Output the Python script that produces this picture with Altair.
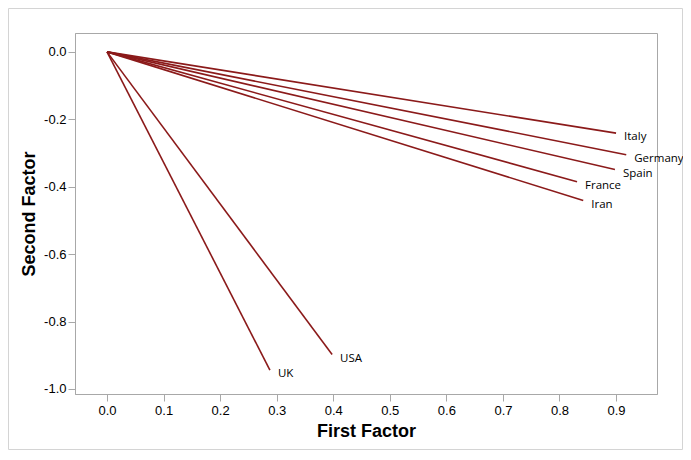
import altair as alt
import pandas as pd

countries = ["Italy", "Germany", "Spain", "France", "Iran", "USA", "UK"]
first_factor = [0.900, 0.918, 0.898, 0.831, 0.842, 0.398, 0.288]
second_factor = [-0.241, -0.305, -0.349, -0.385, -0.441, -0.898, -0.944]
x_ticks = [0.0, 0.1, 0.2, 0.3, 0.4, 0.5, 0.6, 0.7, 0.8, 0.9]
y_ticks = [0.0, -0.2, -0.4, -0.6, -0.8, -1.0]

df = pd.DataFrame({"country": countries, "x": first_factor, "y": second_factor})

W, H = 582, 361
LINE = "#8b1a1a"
GRAY = "#a8a8a8"

xscale = alt.Scale(domain=[-0.0566, 0.9724], nice=False, zero=False)
yscale = alt.Scale(domain=[-1.015, 0.056], nice=False, zero=False)

label_expr = "datum.value < 0 ? '-' + format(-datum.value, '.1f') : format(datum.value, '.1f')"

base = alt.Chart(df)

lines = base.mark_rule(color=LINE, strokeWidth=1.6).encode(
    x=alt.X("x:Q", scale=xscale, title="First Factor",
            axis=alt.Axis(values=x_ticks, labelExpr=label_expr)),
    y=alt.Y("y:Q", scale=yscale, title="Second Factor",
            axis=alt.Axis(values=y_ticks, labelExpr=label_expr)),
    x2=alt.datum(0),
    y2=alt.datum(0),
)

labels = base.mark_text(align="left", baseline="middle", dx=8, dy=4,
                        font="Open Sans", fontSize=11.5, color="black").encode(
    x="x:Q", y="y:Q", text="country:N"
)

border = alt.Chart(pd.DataFrame({"a": [0]})).mark_rect(
    fill=None, stroke="#d4d4d4", strokeWidth=1
).encode(
    x=alt.value(-66.5), x2=alt.value(W + 25.5),
    y=alt.value(-24.5), y2=alt.value(H + 55.5),
)

chart = alt.layer(border, lines, labels).properties(
    width=W, height=H,
    autosize=alt.AutoSizeParams(type="none"),
    padding={"left": 67, "top": 25, "right": 26, "bottom": 56},
    background="white",
).configure_view(
    stroke=GRAY, strokeWidth=1
).configure_axis(
    grid=False,
    domainColor=GRAY,
    tickColor=GRAY,
    tickSize=7,
    labelFont="Liberation Sans",
    labelFontSize=13,
    labelColor="black",
    titleFont="Liberation Sans",
    titleFontSize=18,
    titleFontWeight="bold",
    titleColor="black",
).configure_axisX(
    labelPadding=3,
    titlePadding=5,
).configure_axisY(
    labelPadding=2,
    titlePadding=5,
)

chart.save("out.html", embed_options={"renderer": "svg", "actions": False})
